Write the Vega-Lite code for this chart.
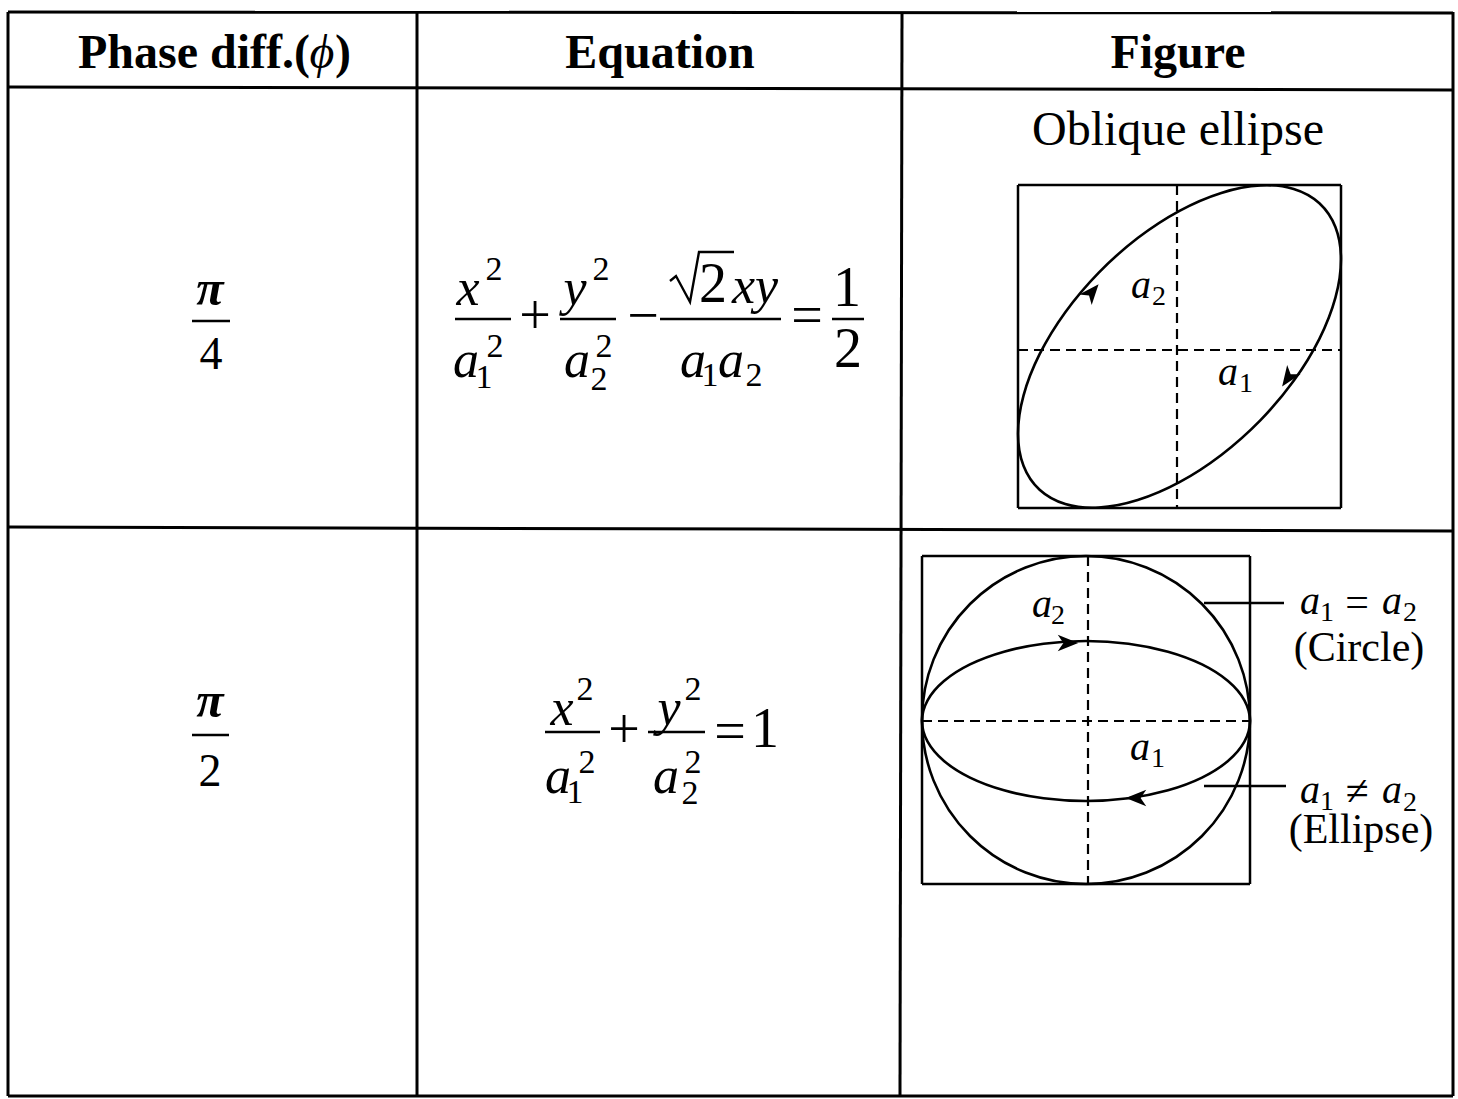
{
"$schema": "https://vega.github.io/schema/vega-lite/v6.json",
"width": 1458, "height": 1099,
"autosize": {"type": "fit", "contains": "padding"},
"padding": 0,
"background": "white",
"config": {"view": {"stroke": null}},
"datasets": {
"grid": [
{"x":8,"y":12,"x2":1453,"y2":13},
{"x":8,"y":87,"x2":1453,"y2":90},
{"x":8,"y":527,"x2":1453,"y2":531},
{"x":8,"y":1096,"x2":1453,"y2":1096},
{"x":8,"y":12,"x2":8,"y2":1096},
{"x":417,"y":12,"x2":417,"y2":1096},
{"x":902,"y":12,"x2":900,"y2":1096},
{"x":1453,"y":12,"x2":1453,"y2":1096}
],
"thin": [
{"x":192,"y":321,"x2":230,"y2":321},
{"x":192,"y":735,"x2":229,"y2":735},
{"x":455,"y":319,"x2":511,"y2":319},
{"x":560,"y":319,"x2":616,"y2":319},
{"x":660,"y":319,"x2":781,"y2":319},
{"x":832,"y":319,"x2":864,"y2":319},
{"x":545,"y":732,"x2":600,"y2":732},
{"x":648,"y":732,"x2":705,"y2":732},
{"x":1018,"y":185,"x2":1341,"y2":185},
{"x":1341,"y":185,"x2":1341,"y2":508},
{"x":1018,"y":508,"x2":1341,"y2":508},
{"x":1018,"y":185,"x2":1018,"y2":508},
{"x":922,"y":556,"x2":1250,"y2":556},
{"x":1250,"y":556,"x2":1250,"y2":884},
{"x":922,"y":884,"x2":1250,"y2":884},
{"x":922,"y":556,"x2":922,"y2":884},
{"x":1204,"y":603,"x2":1284,"y2":603},
{"x":1204,"y":786,"x2":1286,"y2":786}
],
"dashed": [
{"x":1177,"y":185,"x2":1177,"y2":508},
{"x":1018,"y":350,"x2":1341,"y2":350},
{"x":1088,"y":556,"x2":1088,"y2":884},
{"x":922,"y":721,"x2":1250,"y2":721}
],
"curves": [
{"c":"e1","i":0,"x":1341,"y":259.3},
{"c":"e1","i":1,"x":1335.5,"y":227.2},
{"c":"e1","i":2,"x":1319.4,"y":203.2},
{"c":"e1","i":3,"x":1293.7,"y":188.9},
{"c":"e1","i":4,"x":1260.3,"y":185.4},
{"c":"e1","i":5,"x":1221.3,"y":192.9},
{"c":"e1","i":6,"x":1179.5,"y":210.8},
{"c":"e1","i":7,"x":1137.7,"y":238},
{"c":"e1","i":8,"x":1098.8,"y":272.6},
{"c":"e1","i":9,"x":1065.3,"y":312.2},
{"c":"e1","i":10,"x":1039.6,"y":354.2},
{"c":"e1","i":11,"x":1023.5,"y":395.6},
{"c":"e1","i":12,"x":1018,"y":433.7},
{"c":"e1","i":13,"x":1023.5,"y":465.8},
{"c":"e1","i":14,"x":1039.6,"y":489.8},
{"c":"e1","i":15,"x":1065.3,"y":504.1},
{"c":"e1","i":16,"x":1098.8,"y":507.6},
{"c":"e1","i":17,"x":1137.7,"y":500.1},
{"c":"e1","i":18,"x":1179.5,"y":482.2},
{"c":"e1","i":19,"x":1221.3,"y":455},
{"c":"e1","i":20,"x":1260.3,"y":420.4},
{"c":"e1","i":21,"x":1293.7,"y":380.8},
{"c":"e1","i":22,"x":1319.4,"y":338.8},
{"c":"e1","i":23,"x":1335.5,"y":297.4},
{"c":"e2","i":0,"x":1250,"y":721},
{"c":"e2","i":1,"x":1244.4,"y":700.3},
{"c":"e2","i":2,"x":1228,"y":681},
{"c":"e2","i":3,"x":1202,"y":664.4},
{"c":"e2","i":4,"x":1168,"y":651.7},
{"c":"e2","i":5,"x":1128.4,"y":643.7},
{"c":"e2","i":6,"x":1086,"y":641},
{"c":"e2","i":7,"x":1043.6,"y":643.7},
{"c":"e2","i":8,"x":1004,"y":651.7},
{"c":"e2","i":9,"x":970,"y":664.4},
{"c":"e2","i":10,"x":944,"y":681},
{"c":"e2","i":11,"x":927.6,"y":700.3},
{"c":"e2","i":12,"x":922,"y":721},
{"c":"e2","i":13,"x":927.6,"y":741.7},
{"c":"e2","i":14,"x":944,"y":761},
{"c":"e2","i":15,"x":970,"y":777.6},
{"c":"e2","i":16,"x":1004,"y":790.3},
{"c":"e2","i":17,"x":1043.6,"y":798.3},
{"c":"e2","i":18,"x":1086,"y":801},
{"c":"e2","i":19,"x":1128.4,"y":798.3},
{"c":"e2","i":20,"x":1168,"y":790.3},
{"c":"e2","i":21,"x":1202,"y":777.6},
{"c":"e2","i":22,"x":1228,"y":761},
{"c":"e2","i":23,"x":1244.4,"y":741.7}
],
"radical": [
{"i":0,"x":670,"y":281},
{"i":1,"x":676,"y":276},
{"i":2,"x":690,"y":302},
{"i":3,"x":699,"y":252},
{"i":4,"x":734,"y":252}
],
"circle": [{"x":1086,"y":720}],
"arrows": [
{"x":1092,"y":292,"dir":310},
{"x":1288,"y":378,"dir":125},
{"x":1068,"y":643,"dir":0},
{"x":1136,"y":798,"dir":180}
],
"texts": [
{"t":"Phase diff.(","x":78,"y":68,"r":"headL"},
{"t":"ϕ","x":322,"y":68,"r":"headI"},
{"t":")","x":335,"y":68,"r":"headL"},
{"t":"Equation","x":660,"y":68,"r":"head"},
{"t":"Figure","x":1178,"y":68,"r":"head"},
{"t":"Oblique ellipse","x":1178,"y":145,"r":"lab"},
{"t":"π","x":210,"y":305,"r":"pi"},
{"t":"π","x":210,"y":717,"r":"pi"},
{"t":"4","x":211,"y":369,"r":"pn"},
{"t":"2","x":210,"y":786,"r":"pn"},
{"t":"x","x":468,"y":305,"r":"v"},
{"t":"a","x":466,"y":377,"r":"v"},
{"t":"y","x":575,"y":305,"r":"v"},
{"t":"a","x":577,"y":377,"r":"v"},
{"t":"xy","x":755,"y":303,"r":"v"},
{"t":"a","x":693,"y":377,"r":"v"},
{"t":"a","x":731,"y":377,"r":"v"},
{"t":"x","x":562,"y":725,"r":"v"},
{"t":"a","x":558,"y":793,"r":"v"},
{"t":"y","x":669,"y":725,"r":"v"},
{"t":"a","x":666,"y":793,"r":"v"},
{"t":"+","x":535,"y":334,"r":"n"},
{"t":"−","x":643,"y":334,"r":"n"},
{"t":"2","x":713,"y":302,"r":"n"},
{"t":"=","x":807,"y":334,"r":"n"},
{"t":"1","x":847,"y":306,"r":"n"},
{"t":"2","x":848,"y":367,"r":"n"},
{"t":"+","x":624,"y":748,"r":"n"},
{"t":"=","x":730,"y":750,"r":"n"},
{"t":"1","x":765,"y":747,"r":"n"},
{"t":"2","x":494,"y":280,"r":"s"},
{"t":"1","x":484,"y":388,"r":"s"},
{"t":"2","x":495,"y":357,"r":"s"},
{"t":"2","x":601,"y":280,"r":"s"},
{"t":"2","x":599,"y":390,"r":"s"},
{"t":"2","x":604,"y":357,"r":"s"},
{"t":"1","x":710,"y":386,"r":"s"},
{"t":"2","x":754,"y":386,"r":"s"},
{"t":"2","x":585,"y":700,"r":"s"},
{"t":"1","x":575,"y":803,"r":"s"},
{"t":"2","x":587,"y":773,"r":"s"},
{"t":"2","x":693,"y":700,"r":"s"},
{"t":"2","x":690,"y":804,"r":"s"},
{"t":"2","x":693,"y":773,"r":"s"},
{"t":"a","x":1141,"y":298,"r":"fv"},
{"t":"a","x":1228,"y":385,"r":"fv"},
{"t":"a","x":1042,"y":617,"r":"fv"},
{"t":"a","x":1140,"y":760,"r":"fv"},
{"t":"a","x":1310,"y":614,"r":"fv"},
{"t":"a","x":1392,"y":614,"r":"fv"},
{"t":"a","x":1310,"y":803,"r":"fv"},
{"t":"a","x":1392,"y":803,"r":"fv"},
{"t":"2","x":1159,"y":305,"r":"fs"},
{"t":"1","x":1246,"y":392,"r":"fs"},
{"t":"2","x":1058,"y":624,"r":"fs"},
{"t":"1","x":1158,"y":767,"r":"fs"},
{"t":"1","x":1327,"y":621,"r":"fs"},
{"t":"2","x":1410,"y":621,"r":"fs"},
{"t":"1","x":1327,"y":810,"r":"fs"},
{"t":"2","x":1410,"y":811,"r":"fs"},
{"t":"=","x":1357,"y":616,"r":"ft"},
{"t":"≠","x":1357,"y":805,"r":"ft"},
{"t":"(Circle)","x":1359,"y":661,"r":"ft"},
{"t":"(Ellipse)","x":1361,"y":843,"r":"ft"}
]
},
"encoding": {
"x": {"field": "x", "type": "quantitative", "scale": {"domain": [0, 1458], "nice": false, "zero": false}, "axis": null},
"y": {"field": "y", "type": "quantitative", "scale": {"domain": [0, 1099], "nice": false, "zero": false, "reverse": true}, "axis": null}
},
"layer": [
{"data": {"name": "grid"}, "mark": {"type": "rule", "strokeWidth": 3, "color": "black"}, "encoding": {"x2": {"field": "x2"}, "y2": {"field": "y2"}}},
{"data": {"name": "thin"}, "mark": {"type": "rule", "strokeWidth": 2.5, "color": "black"}, "encoding": {"x2": {"field": "x2"}, "y2": {"field": "y2"}}},
{"data": {"name": "dashed"}, "mark": {"type": "rule", "strokeWidth": 2.2, "strokeDash": [10, 6], "color": "black"}, "encoding": {"x2": {"field": "x2"}, "y2": {"field": "y2"}}},
{"data": {"name": "curves"}, "mark": {"type": "line", "interpolate": "cardinal-closed", "strokeWidth": 2.6, "color": "black"}, "encoding": {"detail": {"field": "c"}, "order": {"field": "i", "type": "quantitative"}}},
{"data": {"name": "radical"}, "mark": {"type": "line", "strokeWidth": 2.4, "color": "black"}, "encoding": {"order": {"field": "i", "type": "quantitative"}}},
{"data": {"name": "circle"}, "mark": {"type": "point", "shape": "circle", "size": 107584, "filled": false, "strokeWidth": 2.6, "color": "black", "opacity": 1}},
{"data": {"name": "arrows"}, "mark": {"type": "point", "shape": "M1,0L-1,-0.8L-0.45,0L-1,0.8Z", "size": 420, "filled": true, "color": "black", "opacity": 1}, "encoding": {"angle": {"field": "dir", "type": "quantitative", "scale": null}}},
{"data": {"name": "texts"}, "transform": [{"filter": "datum.r === 'head'"}], "mark": {"type": "text", "font": "Liberation Serif", "fontSize": 48, "fontWeight": "bold", "align": "center", "baseline": "alphabetic", "color": "black"}, "encoding": {"text": {"field": "t"}}},
{"data": {"name": "texts"}, "transform": [{"filter": "datum.r === 'headL'"}], "mark": {"type": "text", "font": "Liberation Serif", "fontSize": 48, "fontWeight": "bold", "align": "left", "baseline": "alphabetic", "color": "black"}, "encoding": {"text": {"field": "t"}}},
{"data": {"name": "texts"}, "transform": [{"filter": "datum.r === 'headI'"}], "mark": {"type": "text", "font": "Liberation Serif", "fontSize": 48, "fontStyle": "italic", "align": "center", "baseline": "alphabetic", "color": "black"}, "encoding": {"text": {"field": "t"}}},
{"data": {"name": "texts"}, "transform": [{"filter": "datum.r === 'lab'"}], "mark": {"type": "text", "font": "Liberation Serif", "fontSize": 48, "align": "center", "baseline": "alphabetic", "color": "black"}, "encoding": {"text": {"field": "t"}}},
{"data": {"name": "texts"}, "transform": [{"filter": "datum.r === 'pi'"}], "mark": {"type": "text", "font": "Liberation Serif", "fontSize": 50, "fontStyle": "italic", "fontWeight": "bold", "align": "center", "baseline": "alphabetic", "color": "black"}, "encoding": {"text": {"field": "t"}}},
{"data": {"name": "texts"}, "transform": [{"filter": "datum.r === 'pn'"}], "mark": {"type": "text", "font": "Liberation Serif", "fontSize": 46, "align": "center", "baseline": "alphabetic", "color": "black"}, "encoding": {"text": {"field": "t"}}},
{"data": {"name": "texts"}, "transform": [{"filter": "datum.r === 'v'"}], "mark": {"type": "text", "font": "Liberation Serif", "fontSize": 52, "fontStyle": "italic", "align": "center", "baseline": "alphabetic", "color": "black"}, "encoding": {"text": {"field": "t"}}},
{"data": {"name": "texts"}, "transform": [{"filter": "datum.r === 'n'"}], "mark": {"type": "text", "font": "Liberation Serif", "fontSize": 56, "align": "center", "baseline": "alphabetic", "color": "black"}, "encoding": {"text": {"field": "t"}}},
{"data": {"name": "texts"}, "transform": [{"filter": "datum.r === 's'"}], "mark": {"type": "text", "font": "Liberation Serif", "fontSize": 34, "align": "center", "baseline": "alphabetic", "color": "black"}, "encoding": {"text": {"field": "t"}}},
{"data": {"name": "texts"}, "transform": [{"filter": "datum.r === 'fv'"}], "mark": {"type": "text", "font": "Liberation Serif", "fontSize": 40, "fontStyle": "italic", "align": "center", "baseline": "alphabetic", "color": "black"}, "encoding": {"text": {"field": "t"}}},
{"data": {"name": "texts"}, "transform": [{"filter": "datum.r === 'fs'"}], "mark": {"type": "text", "font": "Liberation Serif", "fontSize": 28, "align": "center", "baseline": "alphabetic", "color": "black"}, "encoding": {"text": {"field": "t"}}},
{"data": {"name": "texts"}, "transform": [{"filter": "datum.r === 'ft'"}], "mark": {"type": "text", "font": "Liberation Serif", "fontSize": 42, "align": "center", "baseline": "alphabetic", "color": "black"}, "encoding": {"text": {"field": "t"}}}
]
}
